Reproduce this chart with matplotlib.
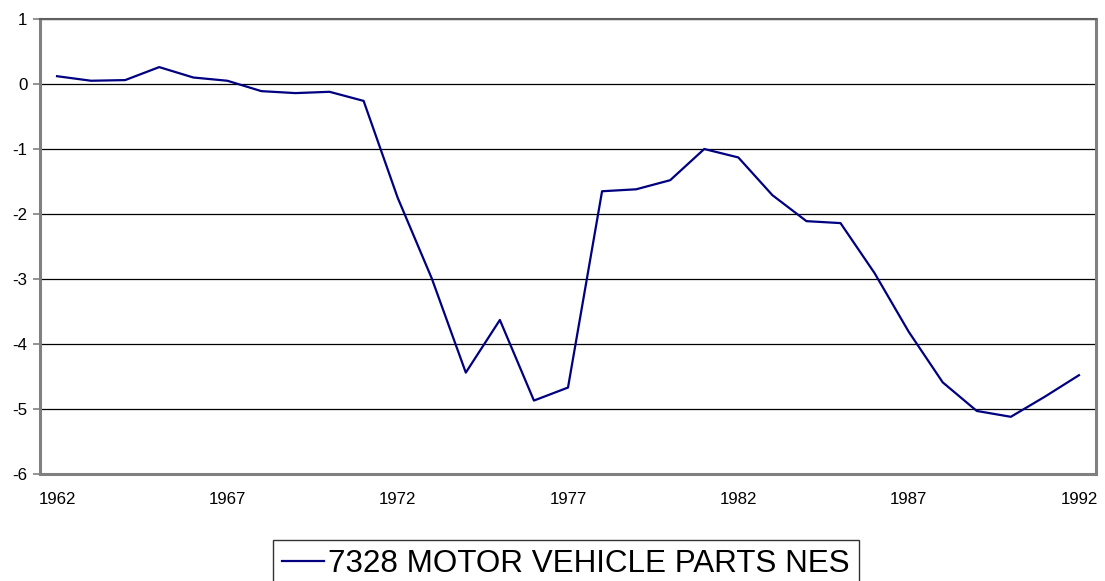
import numpy as np
import matplotlib
matplotlib.use("Agg")
import matplotlib.pyplot as plt

plt.rcParams['font.family'] = ['Liberation Sans', 'DejaVu Sans']

years = list(range(1962, 1993))
values = [0.12, 0.05, 0.06, 0.26, 0.10, 0.05, -0.11, -0.14, -0.12, -0.26,
          -1.75, -2.99, -4.44, -3.63, -4.87, -4.67, -1.65, -1.62, -1.48, -1.00,
          -1.13, -1.71, -2.11, -2.14, -2.91, -3.81, -4.59, -5.03, -5.12, -4.81,
          -4.48]
series_name = "7328 MOTOR VEHICLE PARTS NES"
y_ticks = [-6, -5, -4, -3, -2, -1, 0, 1]

fig = plt.figure(figsize=(11.05, 5.81), dpi=100)
ax = fig.add_axes([40/1105, 1 - 474/581, (1096 - 40)/1105, (474 - 19)/581])

x = np.arange(len(years))
line, = ax.plot(x, values, color="#000080", linewidth=1.6, label=series_name)

ax.set_xlim(-0.5, len(years) - 0.5)
ax.set_ylim(-6, 1)
ax.set_yticks(y_ticks)
ax.set_yticklabels([str(v) for v in y_ticks], fontsize=12.2)
ax.set_xticks(x[::5])
ax.set_xticklabels([str(years[i]) for i in range(0, len(years), 5)], fontsize=12.2)

ax.grid(axis="y", color="black", linewidth=0.9)
ax.set_axisbelow(True)
ax.tick_params(axis="x", length=0, pad=13)
ax.tick_params(axis="y", length=5, width=1.2, color="#808080", pad=4)

for side in ["left", "bottom", "right"]:
    ax.spines[side].set_color("#808080")
    ax.spines[side].set_linewidth(2.2)
ax.spines["top"].set_color("#606060")
ax.spines["top"].set_linewidth(1.5)

leg = ax.legend(handles=[line], loc="upper center",
                bbox_to_anchor=(566/1105, 41/581), bbox_transform=fig.transFigure,
                fontsize=22.6, frameon=True, fancybox=False, shadow=False,
                handlelength=1.35, handletextpad=0.12, borderpad=0.3,
                borderaxespad=0)
leg.get_frame().set_edgecolor("black")
leg.get_frame().set_linewidth(1.0)

fig.savefig("out.png", dpi=100)
